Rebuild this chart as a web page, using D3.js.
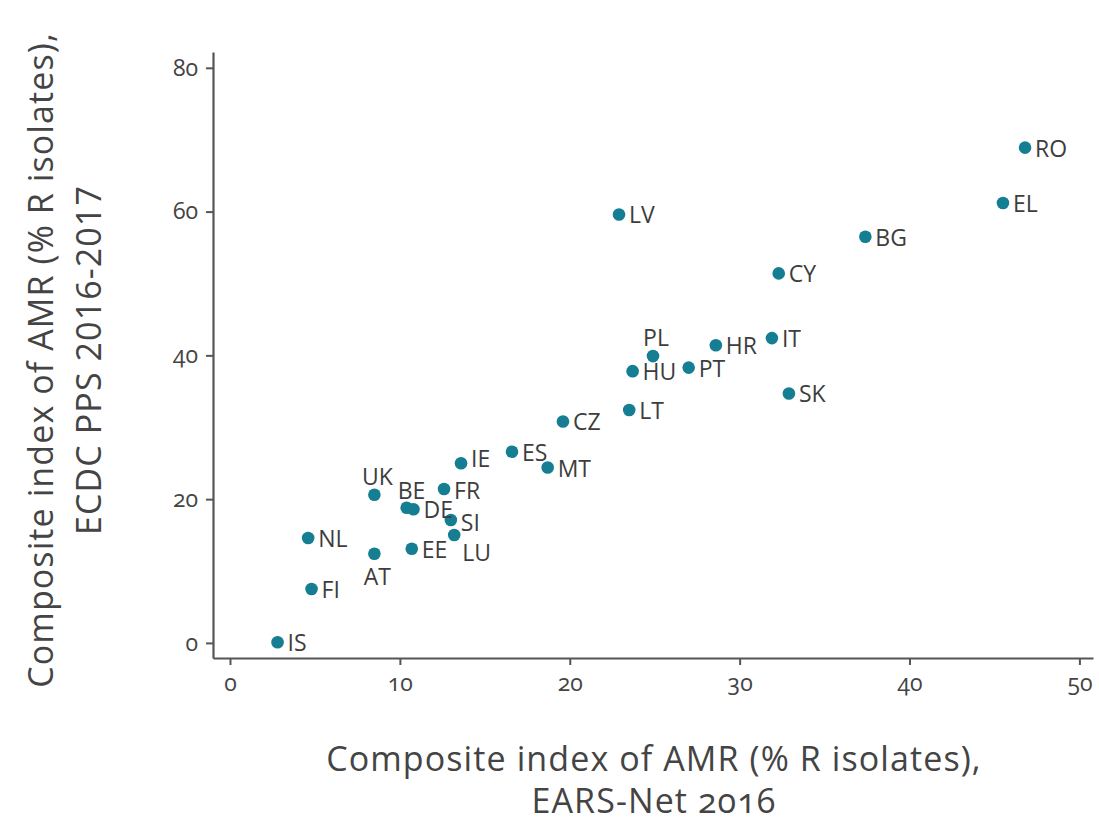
<!DOCTYPE html>
<html><head><meta charset="utf-8">
<script src="https://cdn.jsdelivr.net/npm/d3@7"></script>
<style>
html,body{margin:0;padding:0;background:#fff;}
svg{display:block;}
text{font-family:"Open Sans",sans-serif;}
.onum{font-variant-numeric:oldstyle-nums;font-feature-settings:"onum" 1;}
</style></head>
<body>
<svg id="chart" width="1099" height="824"></svg>
<script>
const countries = ["RO","EL","BG","CY","LV","IT","HR","PL","HU","PT","SK","LT","CZ","ES","MT","IE","FR","UK","BE","DE","SI","LU","NL","AT","EE","FI","IS"];
const earsNet   = [46.8,45.5,37.4,32.3,22.9,31.9,28.6,24.9,23.7,27.0,32.9,23.5,19.6,16.6,18.7,13.6,12.6,8.5,10.4,10.8,13.0,13.2,4.6,8.5,10.7,4.8,2.8];
const ecdcPps   = [68.9,61.2,56.5,51.4,59.6,42.4,41.4,39.9,37.8,38.3,34.7,32.4,30.8,26.6,24.4,25.0,21.4,20.6,18.8,18.6,17.1,15.0,14.6,12.4,13.1,7.5,0.1];
const xTicks = [0,10,20,30,40,50];
const yTicks = [0,20,40,60,80];
// label placement: r = right, t = above, b = below, rb = right-lower
const labelPos = {PL:"t",UK:"t",BE:"tr",AT:"b",LU:"rb"};
const labelNudge = {IE:-5, FR:1, SI:2};

const svg = d3.select("#chart");
const x = d3.scaleLinear().domain([-1.0,50.8]).range([213,1093]);
const y = d3.scaleLinear().domain([-2.1,82.2]).range([658,52]);

const axisColor = "#555";
const textColor = "#444";

const xAxis = svg.append("g").attr("transform","translate(0,658)")
  .call(d3.axisBottom(x).tickValues(xTicks).tickSize(7).tickPadding(10).tickSizeOuter(0));
const yAxis = svg.append("g").attr("transform","translate(213,0)")
  .call(d3.axisLeft(y).tickValues(yTicks).tickSize(7).tickPadding(8).tickSizeOuter(0));
[xAxis,yAxis].forEach(g=>{
  g.select(".domain").attr("stroke",axisColor).attr("stroke-width",2.2);
  g.selectAll(".tick line").attr("stroke",axisColor).attr("stroke-width",2);
  g.selectAll(".tick text").attr("fill",textColor).attr("class","onum")
    .style("font-size","23px").style("font-family","'Open Sans',sans-serif");
});

const pts = countries.map((c,i)=>({c, x:earsNet[i], y:ecdcPps[i]}));

svg.append("g").selectAll("circle").data(pts).join("circle")
  .attr("cx",d=>x(d.x)).attr("cy",d=>y(d.y)).attr("r",6.3)
  .attr("fill","#157e93");

svg.append("g").selectAll("text").data(pts).join("text")
  .attr("fill","#3d3d3d").style("font-size","23px")
  .each(function(d){
    const t = d3.select(this);
    const p = labelPos[d.c] || "r";
    let dx=10, dy=labelNudge[d.c]||0, anchor="start";
    if(p==="t"){dx=3; dy=-19; anchor="middle";}
    if(p==="tr"){dx=-9; dy=-18; anchor="start";}
    if(p==="b"){dx=3; dy=22; anchor="middle";}
    if(p==="rb"){dx=8; dy=17; anchor="start";}
    t.attr("x",x(d.x)+dx).attr("y",y(d.y)+dy)
     .attr("text-anchor",anchor).attr("dominant-baseline","central").text(d.c);
  });

// axis titles
const xt = svg.append("text").attr("text-anchor","middle").attr("fill",textColor)
  .style("font-size","34px").style("letter-spacing","1.1px");
xt.append("tspan").attr("x",654).attr("y",771).text("Composite index of AMR (% R isolates),");
xt.append("tspan").attr("x",654).attr("class","onum").attr("y",813).text("EARS-Net 2016");

const yt = svg.append("text").attr("text-anchor","middle").attr("fill",textColor)
  .style("font-size","34px").style("letter-spacing","1.1px")
  .attr("transform","translate(0,360) rotate(-90)");
yt.append("tspan").attr("x",0).attr("y",53).text("Composite index of AMR (% R isolates),");
yt.append("tspan").attr("x",0).attr("y",101).text("ECDC PPS 2016-2017");
</script>
</body></html>
